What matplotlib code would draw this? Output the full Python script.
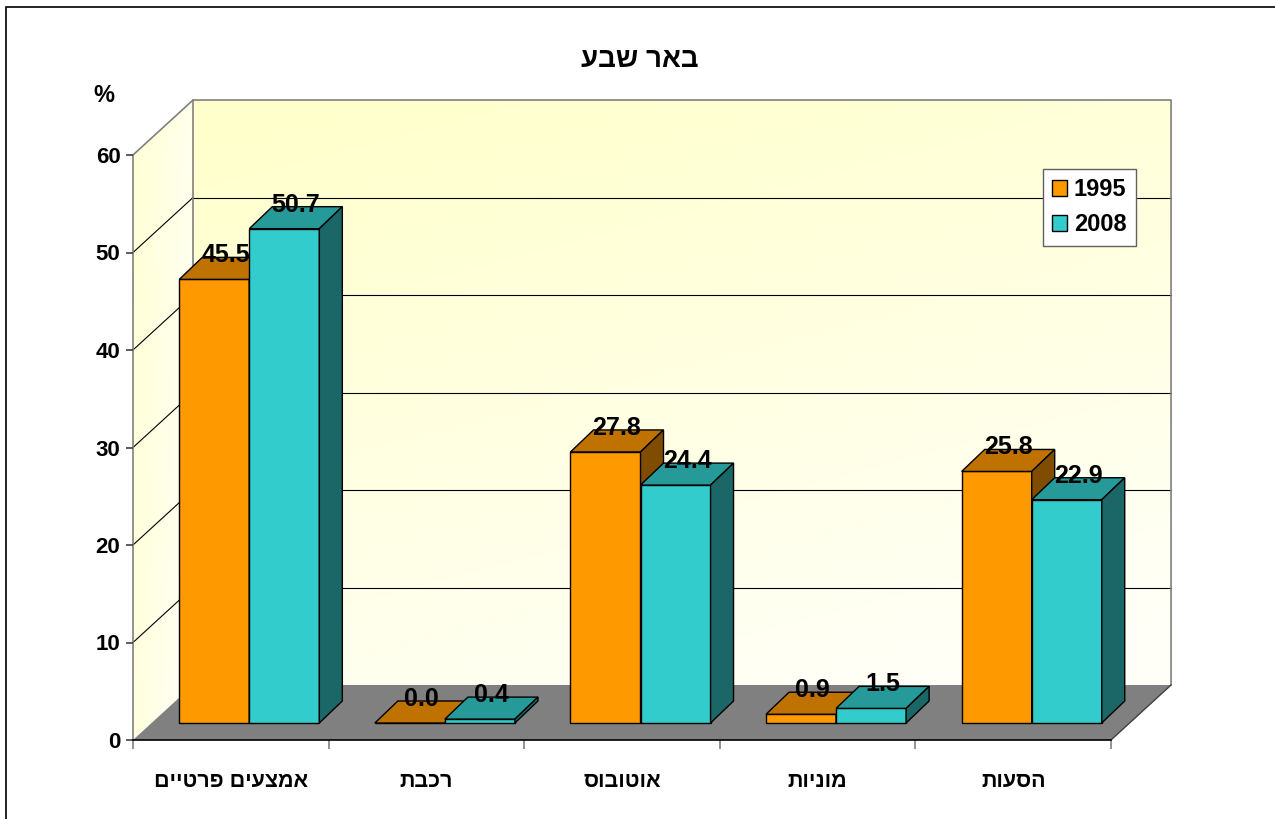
import numpy as np
import matplotlib
matplotlib.use("Agg")
import matplotlib.pyplot as plt
from matplotlib.patches import Polygon, Rectangle, Patch
from matplotlib.colors import LinearSegmentedColormap

# ---- data ----
title = "באר שבע"
categories = ["אמצעים פרטיים", "רכבת", "אוטובוס", "מוניות", "הסעות"]
years = ["1995", "2008"]
values_1995 = [45.5, 0.0, 27.8, 0.9, 25.8]
values_2008 = [50.7, 0.4, 24.4, 1.5, 22.9]
y_ticks = [0, 10, 20, 30, 40, 50, 60]
y_unit = "%"

FONT = ["Liberation Sans", "DejaVu Sans"]
plt.rcParams["font.family"] = FONT


def rtl(s):
    """Visual (left-to-right) order for Hebrew text."""
    return s[::-1]


W, H = 1275, 819
fig = plt.figure(figsize=(W / 100, H / 100), dpi=100)
fig.patch.set_facecolor("white")

ax = fig.add_axes([133 / W, (H - 740) / H, 978 / W, 585 / H])
n = len(categories)
ymax = y_ticks[-1]
ax.patch.set_visible(False)

# depth of the 3-D box (in data units)
DX, DY = 0.307, 5.64
# bar geometry: width, offset of the front face into the box, bar depth
BW = 0.358
SX, SY = 0.0946, 1.744
TX, TY = 0.1176, 2.256

# ---- walls ----
ny = 200
xx, yy = np.meshgrid(np.linspace(0, 1, ny), np.linspace(0, 1, ny))
back_t = np.clip(0.8 * yy + 0.35 * (1 - xx) - 0.1, 0, 1)
wall_cmap = LinearSegmentedColormap.from_list("wall", ["#FFFFF7", "#FFFFCC"])
ax.imshow(back_t, extent=[DX, n + DX, DY, ymax + DY], origin="lower",
          cmap=wall_cmap, vmin=0, vmax=1, aspect="auto", zorder=0,
          clip_on=False, interpolation="bilinear")

side_poly = Polygon([(0, 0), (DX, DY), (DX, ymax + DY), (0, ymax)],
                    closed=True, facecolor="none", edgecolor="none",
                    transform=ax.transData)
ax.add_patch(side_poly)
side_t = np.clip(0.75 * (1 - xx) + 0.3 * yy, 0, 1)
side_cmap = LinearSegmentedColormap.from_list("side", ["#FFFFF8", "#FFFFD6"])
im_side = ax.imshow(side_t, extent=[0, DX, 0, ymax + DY], origin="lower",
                    cmap=side_cmap, vmin=0, vmax=1, aspect="auto", zorder=0,
                    interpolation="bilinear")
im_side.set_clip_path(side_poly)
im_side.set_clip_box(fig.bbox)

# floor
floor = Polygon([(0, 0), (n, 0), (n + DX, DY), (DX, DY)], closed=True,
                facecolor="#808080", edgecolor="none", zorder=1, clip_on=False)
ax.add_patch(floor)
ax.plot([n, n + DX], [0, DY], color="#404040", lw=1.0, zorder=1.5, clip_on=False)

# gridlines on back and side walls
for v in y_ticks[1:-1]:
    ax.plot([DX, n + DX], [v + DY, v + DY], color="black", lw=0.8, zorder=0.5,
            clip_on=False)
    ax.plot([0, DX], [v, v + DY], color="black", lw=0.8, zorder=0.5,
            clip_on=False)

# wall borders
edge = "#808080"
ax.plot([0, DX, n + DX, n + DX], [ymax, ymax + DY, ymax + DY, DY], color=edge,
        lw=1.2, zorder=0.6, clip_on=False)
ax.plot([DX, DX], [DY, ymax + DY], color=edge, lw=1.2, zorder=0.6, clip_on=False)

# ---- bars ----
styles = [
    dict(front="#FF9900", top="#C07200", side="#7F4C00"),
    dict(front="#33CCCC", top="#269999", side="#1B6666"),
]
series = [values_1995, values_2008]

z = 3
for i in range(n):
    c = i + 0.5
    for k, vals in enumerate(series):
        v = vals[i]
        st = styles[k]
        x0 = c + SX - BW + k * BW
        ax.bar(x0, v, width=BW, bottom=SY, align="edge", color=st["front"],
               edgecolor="black", linewidth=1.0, zorder=z, clip_on=False)
        top = Polygon([(x0, SY + v), (x0 + BW, SY + v),
                       (x0 + BW + TX, SY + v + TY), (x0 + TX, SY + v + TY)],
                      closed=True, facecolor=st["top"], edgecolor="black",
                      lw=1.0, zorder=z, clip_on=False)
        side = Polygon([(x0 + BW, SY), (x0 + BW + TX, SY + TY),
                        (x0 + BW + TX, SY + v + TY), (x0 + BW, SY + v)],
                       closed=True, facecolor=st["side"], edgecolor="black",
                       lw=1.0, zorder=z, clip_on=False)
        ax.add_patch(top)
        ax.add_patch(side)
        ax.text(x0 + BW / 2 + TX * 0.5, SY + v + TY + 0.2, f"{v:.1f}",
                ha="center", va="center", fontsize=18, fontweight="bold",
                color="black", zorder=z + 0.5, clip_on=False)
        z += 1

# ---- axes ----
ax.set_xlim(0, n)
ax.set_ylim(0, ymax)
for s in ["top", "right"]:
    ax.spines[s].set_visible(False)
ax.spines["left"].set_color("#808080")
ax.spines["left"].set_linewidth(1.2)
ax.spines["bottom"].set_color("black")
ax.spines["bottom"].set_linewidth(1.2)
ax.spines["left"].set_zorder(0.7)
ax.spines["bottom"].set_zorder(2)

ax.set_yticks(y_ticks)
ax.set_yticklabels([str(t) for t in y_ticks], fontsize=16, fontweight="bold")
ax.tick_params(axis="y", direction="out", length=5, width=1.2, color="#404040",
               pad=4)

ax.set_xticks(range(n + 1))
ax.set_xticklabels([])
ax.tick_params(axis="x", which="major", direction="out", length=6.5,
               width=1.2, color="#808080")
ax.set_xticks([i + 0.5 for i in range(n)], minor=True)
ax.set_xticklabels([rtl(c) for c in categories], minor=True, fontsize=15.5,
                   fontweight="bold")
ax.tick_params(axis="x", which="minor", length=0, pad=22)

# ---- texts ----
fig.text(640 / W, 1 - 60 / H, rtl(title), ha="center", va="center",
         fontsize=20, fontweight="bold")
fig.text(104 / W, 1 - 95 / H, y_unit, ha="center", va="center",
         fontsize=17, fontweight="bold")

# legend
handles = [Patch(facecolor=styles[k]["front"], edgecolor="black", lw=1.0)
           for k in range(len(years))]
leg = fig.legend(handles, years, loc="upper left",
                 bbox_to_anchor=(1043 / W, 1 - 169 / H),
                 frameon=True, fancybox=False, framealpha=1,
                 edgecolor="#606060", prop=dict(family=FONT, weight="bold",
                                                size=17),
                 handlelength=0.6, handleheight=0.65, handletextpad=0.3,
                 borderpad=0.4, labelspacing=0.5, borderaxespad=0)
leg.get_frame().set_linewidth(1.0)

# outer frame
fig.add_artist(Rectangle((6 / W, -0.1), 2, 1 - 7 / H + 0.1,
                         transform=fig.transFigure, fill=False,
                         edgecolor="black", lw=1.2))

fig.savefig("out.png", dpi=100)
